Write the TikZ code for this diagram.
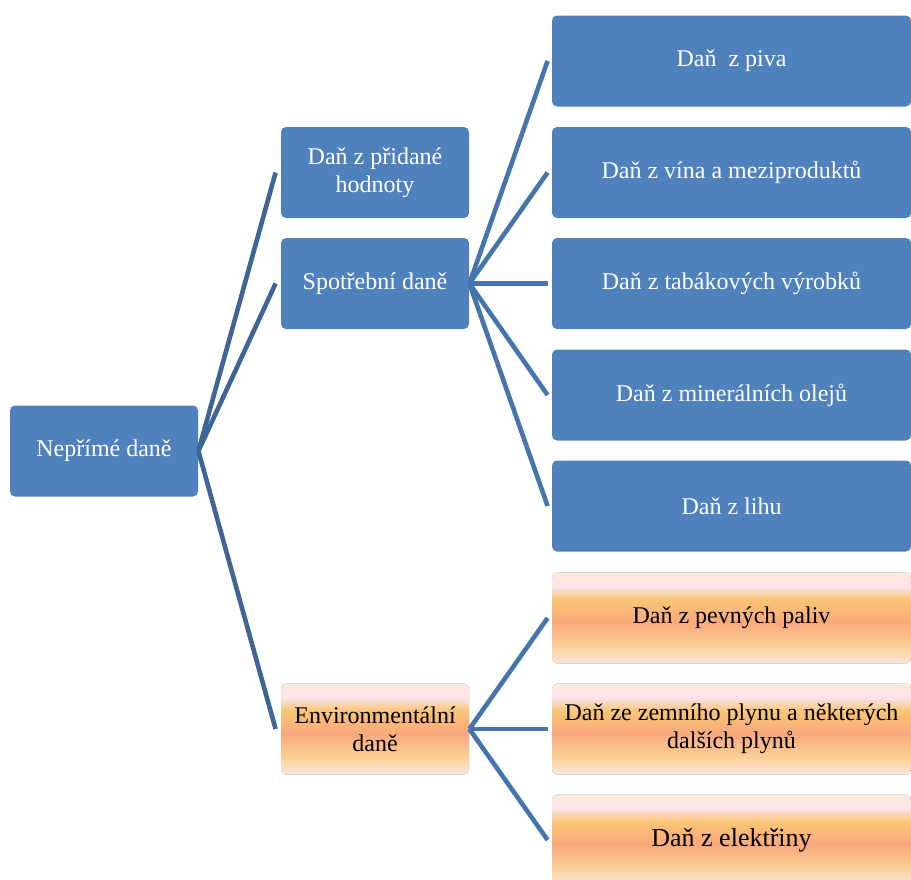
\documentclass[tikz,border=0pt]{standalone}
\usepackage{fontspec}
\setmainfont{Liberation Serif}
\usepackage{xcolor}
\usetikzlibrary{positioning}

\definecolor{boxblue}{HTML}{4F81BD}
\definecolor{linkdark}{HTML}{3D6596}
\definecolor{linkblue}{HTML}{4675AD}
\definecolor{envA}{HTML}{FDE9D9}
\definecolor{envB}{HTML}{FCE4EC}
\definecolor{envC}{HTML}{F9C574}
\definecolor{envD}{HTML}{F9A97D}
\definecolor{envE}{HTML}{FBCF96}
\definecolor{envF}{HTML}{FDE7DB}

\pgfdeclareverticalshading{envshade}{100bp}{
	color(0bp)=(envF); color(25bp)=(envF); color(35bp)=(envE);
	color(47.5bp)=(envD); color(60bp)=(envC); color(67.5bp)=(envB);
	color(75bp)=(envA); color(100bp)=(envA)}

\begin{document}
\begin{tikzpicture}[
		x=0.5pt, y=-0.5pt,
		box/.style={
			rectangle,
			rounded corners=2.5pt,
			fill=boxblue,
			text=white,
			align=center,
			font=\fontsize{12}{14}\selectfont,
			inner sep=3pt,
			minimum height=45.5pt
		},
		small/.style={
			box,
			minimum width=94pt
		},
		wide/.style={
			box,
			minimum width=179.5pt
		},
		env/.style={
			shading=envshade,
			text=black
		},
		link/.style={
			line width=2.3pt,
			draw=linkblue
		}
		]
		\useasboundingbox (0,0) rectangle (911,879);
		\clip (0,0) rectangle (911,879);
		
		% root
		\node[small] (neprime) at (104,451) {Nepřímé daně};
		
		% second level
		\node[small] (dph) at (375,172.5) {Daň z přidané\\hodnoty};
		\node[small] (spotrebni) at (375,283.5) {Spotřební daně};
		\node[small, env] (environ) at (375,729) {Environmentální\\daně};
		
		% excise taxes
		\node[wide] (pivo) at (731.5,61) {Daň~ z piva};
		\node[wide] (vino) at (731.5,172.5) {Daň z vína a meziproduktů};
		\node[wide] (tabak) at (731.5,283.5) {Daň z tabákových výrobků};
		\node[wide] (oleje) at (731.5,395) {Daň z minerálních olejů};
		\node[wide] (lih) at (731.5,506) {Daň z lihu};
		
		% environmental taxes
		\node[wide, env] (paliva) at (731.5,618) {Daň z pevných paliv};
		\node[wide, env] (plyn) at (731.5,729) {Daň ze zemního plynu a některých\\dalších plynů};
		\node[wide, env, font=\fontsize{13}{15}\selectfont] (elektrina) at (731.5,840) {Daň z elektřiny};
		%--
		\draw[link, draw=linkdark] (neprime.east) -- ([xshift=-2.5pt]dph.west);
		\draw[link, draw=linkdark] (neprime.east) -- ([xshift=-2.5pt]spotrebni.west);
		\draw[link, draw=linkdark] (neprime.east) -- ([xshift=-2.5pt]environ.west);
		%--
		\draw[link] (spotrebni.east) -- ([xshift=-2pt]pivo.west);
		\draw[link] (spotrebni.east) -- ([xshift=-2pt]vino.west);
		\draw[link] (spotrebni.east) -- ([xshift=-2pt]tabak.west);
		\draw[link] (spotrebni.east) -- ([xshift=-2pt]oleje.west);
		\draw[link] (spotrebni.east) -- ([xshift=-2pt]lih.west);
		%--
		\draw[link] (environ.east) -- ([xshift=-2pt]paliva.west);
		\draw[link] (environ.east) -- ([xshift=-2pt]plyn.west);
		\draw[link] (environ.east) -- ([xshift=-2pt]elektrina.west);
		
	\end{tikzpicture}
\end{document}
